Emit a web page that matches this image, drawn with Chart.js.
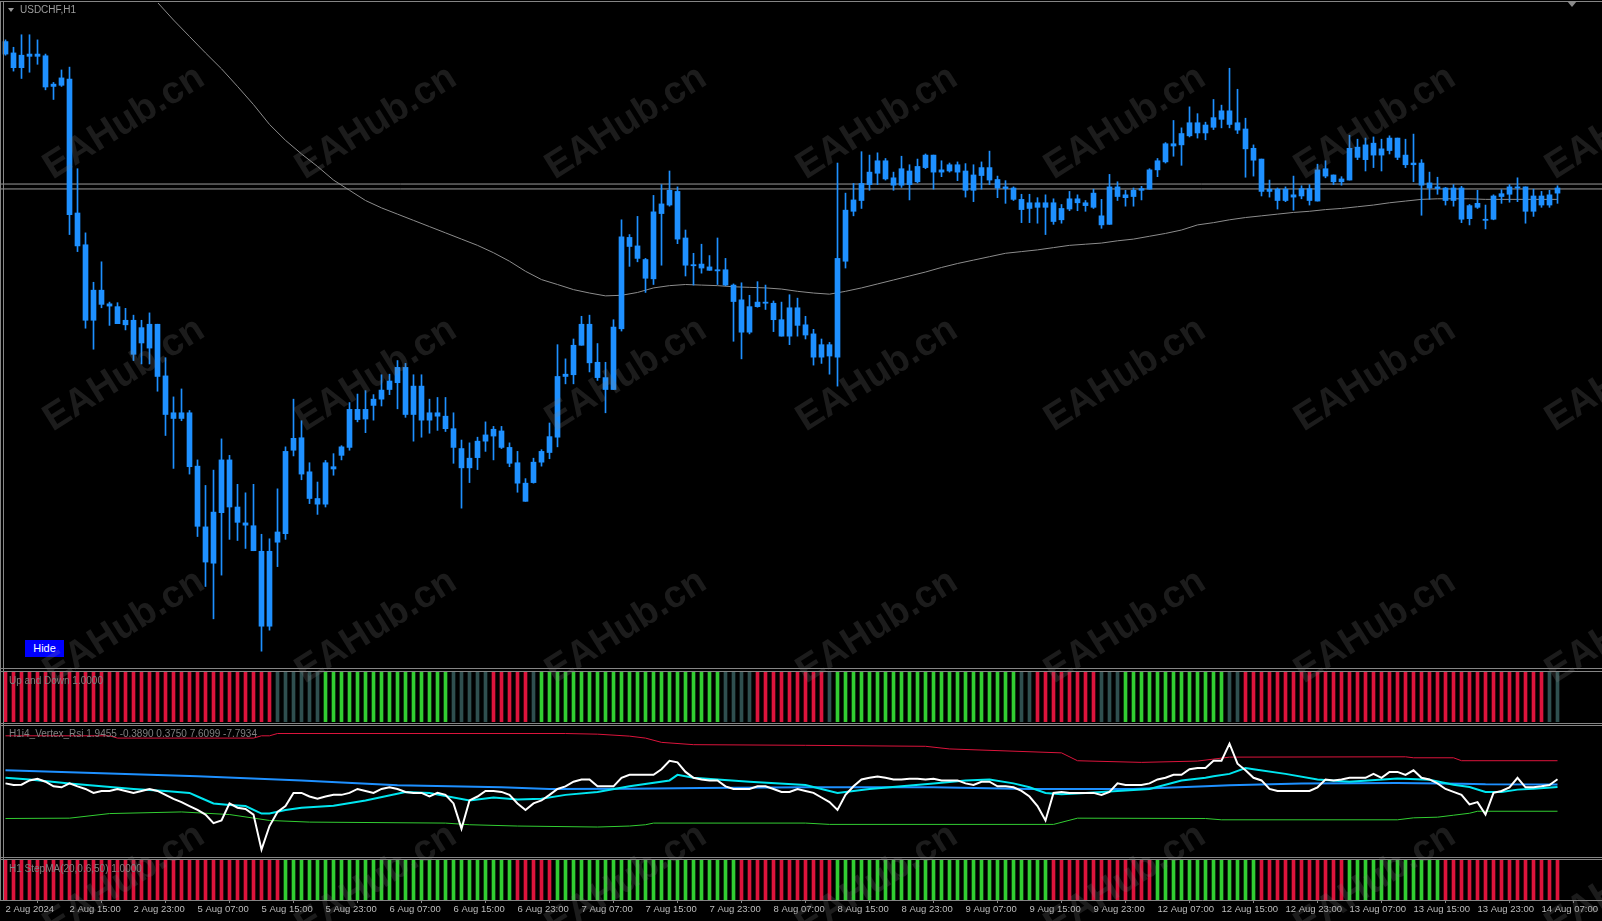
<!DOCTYPE html>
<html>
<head>
<meta charset="utf-8">
<title>USDCHF,H1</title>
<script src="https://cdn.jsdelivr.net/npm/chart.js@4.4.1/dist/chart.umd.min.js"></script>
<style>
  html, body { margin: 0; padding: 0; background: #000; }
  #wrap { position: relative; width: 1602px; height: 921px; overflow: hidden; background: #000; font-family: 'Liberation Sans', Arial, sans-serif; }
  canvas { position: absolute; left: 0; }
  .hl { position: absolute; left: 0; width: 1602px; height: 1px; background: #858585; }
  .vl { position: absolute; top: 2px; width: 1px; height: 898px; background: #858585; }
  .lbl { position: absolute; font-size: 10px; line-height: 12px; color: #808080; white-space: nowrap; }
  .wm { position: absolute; font: bold 38px 'Liberation Sans', Arial, sans-serif; color: rgba(128,128,128,0.22);
        transform: translate(-50%, -50%) rotate(-32deg); white-space: nowrap; pointer-events: none; }
  #hide { position: absolute; left: 25px; top: 640px; width: 39px; height: 17px; background: #0000ff;
          color: #fff; font-size: 11px; line-height: 17px; text-align: center; }
</style>
</head>
<body>
<div id="wrap">
  <canvas id="main" width="1602" height="665" style="top:3px"></canvas>
  <canvas id="updown" width="1602" height="50" style="top:672px"></canvas>
  <canvas id="rsi" width="1602" height="130" style="top:726px"></canvas>
  <canvas id="step" width="1602" height="61" style="top:860px"></canvas>

  <div class="hl" style="top:1px"></div>
  <div class="hl" style="top:668px"></div>
  <div class="hl" style="top:671px"></div>
  <div class="hl" style="top:723px"></div>
  <div class="hl" style="top:725px"></div>
  <div class="hl" style="top:857px"></div>
  <div class="hl" style="top:859px"></div>
  <div class="vl" style="left:0px"></div>
  <div class="vl" style="left:3px"></div>

  <div style="position:absolute;left:8px;top:8px;width:0;height:0;border-left:3.5px solid transparent;border-right:3.5px solid transparent;border-top:4px solid #9a9a9a"></div>
  <div class="lbl" style="left:20px;top:4px;color:#9d9d9d">USDCHF,H1</div>
  <div style="position:absolute;left:1567px;top:1px;width:0;height:0;border-left:5px solid transparent;border-right:5px solid transparent;border-top:6px solid #8a8a8a"></div>
  <div class="lbl" style="left:9px;top:675px">Up and Down 1.0000</div>
  <div class="lbl" style="left:9px;top:728px">H1i4_Vertex_Rsi 1.9455 -0.3890 0.3750 7.6099 -7.7934</div>
  <div class="lbl" style="left:9px;top:863px">H1 StepMA(20,0.6,50) 1.0000</div>
  <div id="hide">Hide</div>
</div>

<script>
// candles, USDCHF H1, 2 Aug 07:00 .. 14 Aug 09:00
const opens = [0.87666,0.87606,0.87528,0.87588,0.87600,0.87591,0.87429,0.87435,0.87468,0.86760,
  0.86592,0.86193,0.86352,0.86280,0.86265,0.86169,0.86193,0.86154,0.86046,0.86172,
  0.85899,0.85704,0.85674,0.85704,0.85422,0.85101,0.84909,0.85176,0.85455,0.85206,
  0.85122,0.85107,0.84972,0.84576,0.85020,0.85065,0.85506,0.85572,0.85392,0.85251,
  0.85221,0.85407,0.85479,0.85521,0.85722,0.85671,0.85743,0.85776,0.85827,0.85863,
  0.85944,0.85695,0.85845,0.85665,0.85704,0.85686,0.85620,0.85515,0.85413,0.85467,
  0.85554,0.85581,0.85608,0.85521,0.85440,0.85332,0.85335,0.85443,0.85494,0.85575,
  0.85896,0.85905,0.86061,0.86172,0.85971,0.85890,0.85827,0.86148,0.86631,0.86586,
  0.86514,0.86412,0.86757,0.86802,0.86874,0.86628,0.86487,0.86469,0.86475,0.86454,
  0.86460,0.86379,0.86301,0.86130,0.86265,0.86289,0.86283,0.86196,0.86109,0.86259,
  0.86169,0.86121,0.85998,0.86064,0.85998,0.86505,0.86769,0.86826,0.86910,0.86970,
  0.87036,0.86946,0.86907,0.86982,0.86925,0.87000,0.87066,0.86976,0.86982,0.87015,
  0.86982,0.86880,0.86958,0.87000,0.86937,0.86898,0.86892,0.86832,0.86784,0.86814,
  0.86790,0.86814,0.86724,0.86781,0.86835,0.86814,0.86790,0.86745,0.86700,0.86898,
  0.86856,0.86847,0.86880,0.86886,0.86988,0.87030,0.87114,0.87120,0.87168,0.87237,
  0.87183,0.87213,0.87255,0.87300,0.87237,0.87204,0.87102,0.87045,0.86874,0.86886,
  0.86826,0.86856,0.86850,0.86889,0.86823,0.86994,0.86961,0.86925,0.86934,0.87108,
  0.87042,0.87129,0.87066,0.87090,0.87156,0.87066,0.87015,0.87024,0.86919,0.86889,
  0.86892,0.86826,0.86892,0.86730,0.86790,0.86727,0.86727,0.86847,0.86859,0.86898,
  0.86898,0.86769,0.86850,0.86802,0.86865];
const highs = [0.87675,0.87636,0.87702,0.87702,0.87675,0.87600,0.87450,0.87516,0.87531,0.86994,
  0.86655,0.86394,0.86502,0.86289,0.86286,0.86256,0.86220,0.86193,0.86232,0.86172,
  0.85995,0.85788,0.85830,0.85716,0.85455,0.85320,0.85401,0.85566,0.85479,0.85326,
  0.85281,0.85326,0.85062,0.85038,0.85302,0.85524,0.85776,0.85662,0.85440,0.85338,
  0.85452,0.85488,0.85530,0.85758,0.85803,0.85821,0.85800,0.85905,0.85908,0.85980,
  0.85965,0.85905,0.85905,0.85776,0.85785,0.85785,0.85704,0.85560,0.85545,0.85575,
  0.85656,0.85632,0.85632,0.85545,0.85500,0.85356,0.85464,0.85509,0.85650,0.86064,
  0.85989,0.86094,0.86214,0.86220,0.86070,0.85971,0.86196,0.86724,0.86646,0.86742,
  0.86520,0.86853,0.86910,0.86982,0.86898,0.86670,0.86547,0.86595,0.86535,0.86628,
  0.86520,0.86385,0.86391,0.86325,0.86397,0.86379,0.86295,0.86289,0.86328,0.86310,
  0.86214,0.86145,0.86094,0.86076,0.87024,0.86865,0.86916,0.87084,0.87066,0.87078,
  0.87048,0.86976,0.87060,0.87015,0.87045,0.87072,0.87066,0.87036,0.87024,0.87030,
  0.87021,0.87015,0.87030,0.87087,0.86955,0.86931,0.86898,0.86859,0.86859,0.86841,
  0.86856,0.86835,0.86805,0.86874,0.86856,0.86826,0.86886,0.86832,0.86964,0.86925,
  0.86880,0.86892,0.86901,0.86994,0.87048,0.87132,0.87249,0.87210,0.87321,0.87285,
  0.87240,0.87360,0.87330,0.87525,0.87414,0.87261,0.87120,0.87045,0.86934,0.86892,
  0.86898,0.86955,0.86904,0.86910,0.87018,0.87036,0.86961,0.86952,0.87171,0.87150,
  0.87156,0.87162,0.87150,0.87168,0.87156,0.87150,0.87177,0.87042,0.86976,0.86949,
  0.86895,0.86910,0.86901,0.86805,0.86880,0.86802,0.86856,0.86883,0.86910,0.86946,
  0.86898,0.86886,0.86874,0.86880,0.86904];
const lows = [0.87594,0.87510,0.87471,0.87504,0.87546,0.87411,0.87360,0.87429,0.86646,0.86556,
  0.86151,0.86040,0.86259,0.86166,0.86175,0.86142,0.85980,0.85962,0.85962,0.85818,
  0.85584,0.85410,0.85662,0.85380,0.85050,0.84786,0.84615,0.84846,0.85035,0.85029,
  0.84987,0.84975,0.84444,0.84555,0.84891,0.85035,0.85476,0.85350,0.85224,0.85167,
  0.85206,0.85374,0.85455,0.85506,0.85656,0.85599,0.85665,0.85740,0.85800,0.85725,
  0.85680,0.85554,0.85575,0.85596,0.85611,0.85605,0.85437,0.85200,0.85335,0.85404,
  0.85500,0.85455,0.85515,0.85419,0.85284,0.85236,0.85332,0.85422,0.85461,0.85524,
  0.85857,0.85857,0.86061,0.85920,0.85875,0.85704,0.85827,0.86136,0.86478,0.86502,
  0.86340,0.86382,0.86484,0.86796,0.86598,0.86427,0.86379,0.86442,0.86457,0.86382,
  0.86376,0.86082,0.85989,0.86121,0.86262,0.86250,0.86133,0.86109,0.86064,0.86109,
  0.86094,0.85956,0.85965,0.85908,0.85845,0.86469,0.86745,0.86784,0.86880,0.86910,
  0.86934,0.86880,0.86895,0.86829,0.86919,0.86994,0.86886,0.86952,0.86976,0.86931,
  0.86844,0.86820,0.86886,0.86910,0.86841,0.86811,0.86826,0.86709,0.86709,0.86706,
  0.86646,0.86700,0.86706,0.86772,0.86772,0.86769,0.86784,0.86679,0.86700,0.86826,
  0.86796,0.86796,0.86829,0.86886,0.86952,0.87024,0.87060,0.87012,0.87162,0.87156,
  0.87147,0.87201,0.87210,0.87210,0.87180,0.86949,0.86955,0.86850,0.86844,0.86781,
  0.86820,0.86775,0.86835,0.86802,0.86823,0.86946,0.86910,0.86907,0.86934,0.87042,
  0.86982,0.87000,0.86982,0.87072,0.87042,0.87000,0.86925,0.86748,0.86832,0.86859,
  0.86802,0.86796,0.86709,0.86697,0.86784,0.86676,0.86724,0.86811,0.86817,0.86820,
  0.86706,0.86742,0.86790,0.86790,0.86811];
const closes = [0.87600,0.87528,0.87594,0.87600,0.87588,0.87426,0.87441,0.87474,0.86751,0.86586,
  0.86193,0.86352,0.86277,0.86268,0.86175,0.86193,0.86013,0.86073,0.86172,0.85896,
  0.85695,0.85674,0.85704,0.85419,0.85104,0.84915,0.85179,0.85455,0.85206,0.85125,
  0.85110,0.84975,0.84576,0.84972,0.85074,0.85500,0.85569,0.85380,0.85251,0.85221,
  0.85440,0.85419,0.85524,0.85722,0.85668,0.85722,0.85776,0.85824,0.85872,0.85944,
  0.85695,0.85845,0.85665,0.85704,0.85686,0.85620,0.85521,0.85413,0.85464,0.85554,
  0.85587,0.85617,0.85521,0.85437,0.85332,0.85236,0.85443,0.85500,0.85578,0.85896,
  0.85908,0.86061,0.86172,0.85968,0.85890,0.85827,0.86157,0.86634,0.86583,0.86520,
  0.86415,0.86766,0.86808,0.86880,0.86622,0.86484,0.86481,0.86490,0.86457,0.86460,
  0.86379,0.86292,0.86130,0.86265,0.86289,0.86283,0.86196,0.86109,0.86259,0.86166,
  0.86115,0.85998,0.86064,0.86004,0.86520,0.86775,0.86829,0.86916,0.86976,0.87036,
  0.86940,0.86907,0.86994,0.86910,0.87006,0.87066,0.86976,0.86988,0.87015,0.86976,
  0.86880,0.86961,0.87000,0.86934,0.86892,0.86889,0.86832,0.86778,0.86814,0.86790,
  0.86814,0.86715,0.86784,0.86835,0.86814,0.86799,0.86865,0.86697,0.86898,0.86847,
  0.86841,0.86880,0.86889,0.86988,0.87036,0.87126,0.87126,0.87180,0.87237,0.87183,
  0.87225,0.87264,0.87300,0.87228,0.87198,0.87099,0.87039,0.86874,0.86886,0.86826,
  0.86886,0.86844,0.86889,0.86826,0.86988,0.86955,0.86925,0.86940,0.87102,0.87054,
  0.87120,0.87066,0.87099,0.87156,0.87054,0.87015,0.87024,0.86907,0.86892,0.86898,
  0.86826,0.86892,0.86727,0.86799,0.86811,0.86721,0.86850,0.86862,0.86898,0.86892,
  0.86769,0.86850,0.86802,0.86856,0.86892];

// moving average read every second bar
const maBars = [19,21,23,25,27,29,31,33,35,37,39,41,43,45,47,49,51,53,55,57,59,61,63,65,67,69,71,73,75,77,79,
  81,83,85,87,89,91,93,95,97,99,101,103,105,107,109,111,113,115,117,119,121,123,125,127,129,131,133,135,137,139,
  141,143,145,147,149,151,153,155,157,159,161,163,165,167,169,171,173,175,177,179,181,183,185,187,189,191,193,194];
const maValues = [0.87873,0.87780,0.87693,0.87606,0.87522,0.87429,0.87333,0.87228,0.87144,0.87072,0.87006,0.86934,
  0.86880,0.86826,0.86787,0.86754,0.86721,0.86688,0.86655,0.86622,0.86589,0.86550,0.86505,0.86452,0.86408,0.86382,
  0.86355,0.86337,0.86322,0.86325,0.86340,0.86364,0.86376,0.86382,0.86379,0.86376,0.86370,0.86367,0.86364,0.86358,
  0.86346,0.86337,0.86331,0.86346,0.86364,0.86385,0.86406,0.86427,0.86448,0.86472,0.86493,0.86511,0.86529,0.86547,
  0.86556,0.86565,0.86577,0.86589,0.86595,0.86601,0.86613,0.86622,0.86637,0.86652,0.86670,0.86697,0.86709,0.86724,
  0.86736,0.86745,0.86754,0.86763,0.86769,0.86778,0.86784,0.86793,0.86802,0.86814,0.86823,0.86832,0.86835,0.86835,
  0.86835,0.86832,0.86832,0.86832,0.86832,0.86832,0.86832];
const hLines = [0.86913, 0.86887];

// time axis: one label every 8 bars
const tickBars = [0,8,16,24,32,40,48,56,64,72,80,88,96,104,112,120,128,136,144,152,160,168,176,184,192];
const tickLabels = ['2 Aug 2024','2 Aug 15:00','2 Aug 23:00','5 Aug 07:00','5 Aug 15:00','5 Aug 23:00',
  '6 Aug 07:00','6 Aug 15:00','6 Aug 23:00','7 Aug 07:00','7 Aug 15:00','7 Aug 23:00','8 Aug 07:00',
  '8 Aug 15:00','8 Aug 23:00','9 Aug 07:00','9 Aug 15:00','9 Aug 23:00','12 Aug 07:00','12 Aug 15:00',
  '12 Aug 23:00','13 Aug 07:00','13 Aug 15:00','13 Aug 23:00','14 Aug 07:00'];

// Up and Down histogram: runs of bar states
const udRunLen   = [34,6,16,5,5,1,23,4,9,1,23,2,8,3,13,2,38,2];
const udRunState = ['R','D','G','D','R','D','G','D','R','D','G','D','R','D','G','D','R','D'];
// StepMA histogram
const stRunLen   = [35,29,5,23,12,27,13,13,11,12,15];
const stRunState = ['R','G','R','G','R','G','R','G','R','G','R'];

// H1i4_Vertex_Rsi
const whiteLine = [0.7,0.2,0.3,1.6,2.1,1.2,-0.2,-0.5,0.7,-0.2,
  -1.0,-2.2,-1.6,-1.6,-1.0,-1.6,-2.2,-1.6,-1.0,-1.6,
  -2.8,-4.0,-5.0,-6.2,-7.4,-8.8,-11.4,-10.6,-5.4,-6.7,
  -7.1,-8.8,-19.5,-12.3,-8.0,-6.2,-2.2,-2.2,-3.3,-4.0,
  -3.3,-2.8,-2.8,-2.2,-1.0,-1.6,-2.2,-1.0,-0.5,-1.0,
  -1.9,-2.2,-2.2,-3.3,-2.2,-2.8,-5.4,-13.1,-4.5,-3.3,
  -1.6,-1.6,-1.9,-2.8,-5.4,-7.4,-5.4,-4.5,-2.8,-1.0,
  -0.2,1.2,1.9,1.9,-0.2,-0.2,-0.2,2.4,3.3,3.3,
  3.3,3.3,5.0,7.6,7.1,4.2,2.4,1.9,1.6,1.6,
  -0.2,-1.0,-1.0,-1.0,-0.2,-0.2,-1.0,-1.9,-1.9,-1.0,
  -1.6,-2.2,-3.6,-5.0,-7.4,-2.8,-0.2,1.9,2.4,2.8,
  2.4,1.9,1.9,2.1,2.1,1.9,2.1,1.6,1.6,1.6,
  0.7,0.2,1.2,1.2,-0.2,-0.2,-0.5,-1.6,-3.3,-6.2,
  -10.6,-2.2,-1.9,-2.2,-2.2,-2.2,-2.2,-2.8,-1.9,0.7,
  0.2,0.2,0.2,0.7,1.9,2.4,3.3,3.3,5.0,5.4,
  5.4,7.6,7.6,12.8,6.7,4.7,2.4,1.6,-1.0,-1.6,
  -1.6,-1.6,-1.6,-1.6,-0.5,1.9,1.6,1.9,2.4,2.4,
  2.4,3.6,2.4,4.2,4.2,3.3,4.7,2.4,1.9,0.7,
  -1.0,-1.9,-2.8,-5.7,-5.0,-8.8,-2.2,-1.6,-0.5,2.4,
  -0.5,-0.5,-0.2,0.2,1.9455];
const cyanLine = [[0,2.4],[3,1.9],[8,0.7],[12,-0.2],[16,-1.0],[20,-1.6],[23,-2.2],[24,-3.3],[26,-5.4],[28,-5.9],
  [30,-6.2],[32,-8.5],[33,-8.5],[35,-7.4],[37,-6.7],[41,-6.1],[45,-4.5],[50,-1.9],[53,-2.2],[58,-4.5],[61,-3.6],
  [64,-4.2],[67,-4.0],[70,-2.8],[74,-1.9],[78,-0.2],[83,1.6],[84,3.3],[86,2.4],[89,1.9],[93,1.2],[100,0.2],
  [102,-1.0],[104,-2.2],[108,-1.0],[112,-0.2],[116,0.7],[120,1.6],[123,1.9],[126,0.7],[128,-0.5],[130,-2.2],
  [132,-2.6],[135,-2.2],[139,-1.6],[143,-1.0],[147,1.6],[150,2.4],[151,2.9],[153,3.6],[155,5.4],[156,5.0],
  [160,3.6],[164,1.9],[168,1.2],[174,2.2],[178,1.8],[181,0.3],[183,-0.4],[185,-1.9],[187,-1.9],[189,-1.2],
  [191,-0.9],[194,-0.389]];
const blueLine = [[0,4.7],[12,3.8],[24,2.9],[37,1.6],[49,0.17],[62,-0.5],[68,-1.0],[78,-0.9],[87,-0.7],[100,-0.5],
  [116,-0.5],[128,-1.0],[141,-1.0],[150,-0.2],[153,0.17],[162,0.7],[174,0.8],[182,0.6],[185,0.4],[194,0.375]];
const redLine = [[0,15.2],[13,15.2],[14,14.5],[31,14.5],[32,15.2],[33,15.2],[34,15.9],[70,15.9],[74,15.7],[78,15.1],
  [80,14.5],[82,13.2],[86,12.5],[100,12.3],[115,12.0],[118,11.2],[132,10.0],[134,7.6],[142,7.1],[149,7.5],
  [151,8.1],[153,8.7],[175,8.8],[176,8.5],[181,8.5],[182,7.61],[194,7.61]];
const greenLine = [[0,-10.0],[8,-9.9],[13,-8.5],[22,-8.0],[28,-8.8],[33,-10.6],[38,-11.1],[55,-11.4],[58,-11.9],
  [64,-12.3],[74,-12.6],[78,-12.3],[80,-11.9],[81,-11.4],[100,-11.4],[103,-11.8],[131,-11.8],[134,-9.9],
  [150,-10.0],[152,-10.4],[174,-10.4],[176,-9.8],[179,-9.6],[181,-9.0],[183,-8.4],[184,-7.79],[194,-7.79]];

// watermark grid
const wmX = [123, 375, 625, 876, 1124, 1374, 1625];
const wmY = [121, 373, 625, 879];

/////////////////////////////////
// setup
/////////////////////////////////
Chart.defaults.font.family = "'Liberation Sans', Arial, sans-serif";
const X_MIN = -0.6875, X_MAX = 199.5625;   // 8 px per bar, bar 0 at x=5.5
const MAIN_MIN = 0.843551, MAIN_MAX = 0.878699;
const RSI_MIN = -21.43, RSI_MAX = 18.19;
const candleColor = '#1e90ff';
const stateColor = { R: '#dc143c', G: '#32cd32', D: '#2f4f4f' };
const idx = opens.map((_, i) => i);

const expandRuns = (lens, states) => lens.flatMap((n, k) => Array(n).fill(states[k]));
const pairs = arr => arr.map(p => ({ x: p[0], y: p[1] }));

const baseOptions = (yMin, yMax) => ({
  responsive: false,
  animation: false,
  events: [],
  layout: { padding: 0 },
  plugins: { legend: { display: false }, tooltip: { enabled: false } },
  scales: {
    x: { type: 'linear', min: X_MIN, max: X_MAX, offset: false, display: false },
    y: { min: yMin, max: yMax, display: false }
  }
});

// price window
new Chart(document.getElementById('main'), {
  type: 'bar',
  data: {
    datasets: [
      { type: 'bar', data: idx.map(i => ({ x: i, y: [lows[i], highs[i]] })),
        backgroundColor: candleColor, barThickness: 1, grouped: false, order: 1 },
      { type: 'bar', data: idx.map(i => ({ x: i, y: [Math.min(opens[i], closes[i]), Math.max(opens[i], closes[i])] })),
        backgroundColor: candleColor, barThickness: 5, minBarLength: 1, grouped: false, order: 0 },
      { type: 'line', data: maBars.map((b, k) => ({ x: b, y: maValues[k] })),
        borderColor: '#8c8c8c', borderWidth: 1, pointRadius: 0, order: 2 },
      ...hLines.map(v => ({ type: 'line', data: [{ x: X_MIN, y: v }, { x: X_MAX, y: v }],
        borderColor: '#9a9a9a', borderWidth: 1, pointRadius: 0, order: 3 }))
    ]
  },
  options: baseOptions(MAIN_MIN, MAIN_MAX)
});

// histogram windows
const histChart = (id, states, withAxis) => {
  const opts = baseOptions(0, 1);
  if (withAxis) {
    opts.scales.x = {
      type: 'linear', min: X_MIN, max: X_MAX, offset: false, display: true,
      afterBuildTicks: s => { s.ticks = tickBars.map(v => ({ value: v })); },
      afterFit: s => { s.height = 21; s.paddingLeft = 0; s.paddingRight = 0; },
      grid: { display: true, drawOnChartArea: false, drawTicks: true, tickLength: 3, color: '#858585' },
      border: { display: true, color: '#858585' },
      ticks: { autoSkip: false, maxRotation: 0, minRotation: 0, align: 'start', padding: 1,
        color: '#bdbdbd', font: { size: 9.5 },
        callback: v => tickLabels[tickBars.indexOf(v)] }
    };
  }
  return new Chart(document.getElementById(id), {
    type: 'bar',
    data: { datasets: [{ data: idx.map(i => ({ x: i, y: 1 })),
      backgroundColor: states.map(s => stateColor[s]), barThickness: 3 }] },
    options: opts
  });
};
histChart('updown', expandRuns(udRunLen, udRunState), false);
histChart('step', expandRuns(stRunLen, stRunState), true);

// vertex rsi window
const lineSet = (data, color, width, order) => ({
  data, borderColor: color, borderWidth: width, pointRadius: 0, tension: 0, order
});
new Chart(document.getElementById('rsi'), {
  type: 'line',
  data: {
    datasets: [
      lineSet(pairs(redLine), '#dc143c', 1, 3),
      lineSet(pairs(greenLine), '#32cd32', 1, 3),
      lineSet(pairs(blueLine), '#1e90ff', 2, 2),
      lineSet(pairs(cyanLine), '#00e6f0', 2, 1),
      lineSet(whiteLine.map((v, i) => ({ x: i, y: v })), '#ffffff', 2, 0)
    ]
  },
  options: baseOptions(RSI_MIN, RSI_MAX)
});

// watermarks
const wrap = document.getElementById('wrap');
wmY.forEach(y => wmX.forEach(x => {
  const d = document.createElement('div');
  d.className = 'wm';
  d.style.left = x + 'px';
  d.style.top = y + 'px';
  d.textContent = 'EAHub.cn';
  wrap.appendChild(d);
}));
</script>
</body>
</html>
